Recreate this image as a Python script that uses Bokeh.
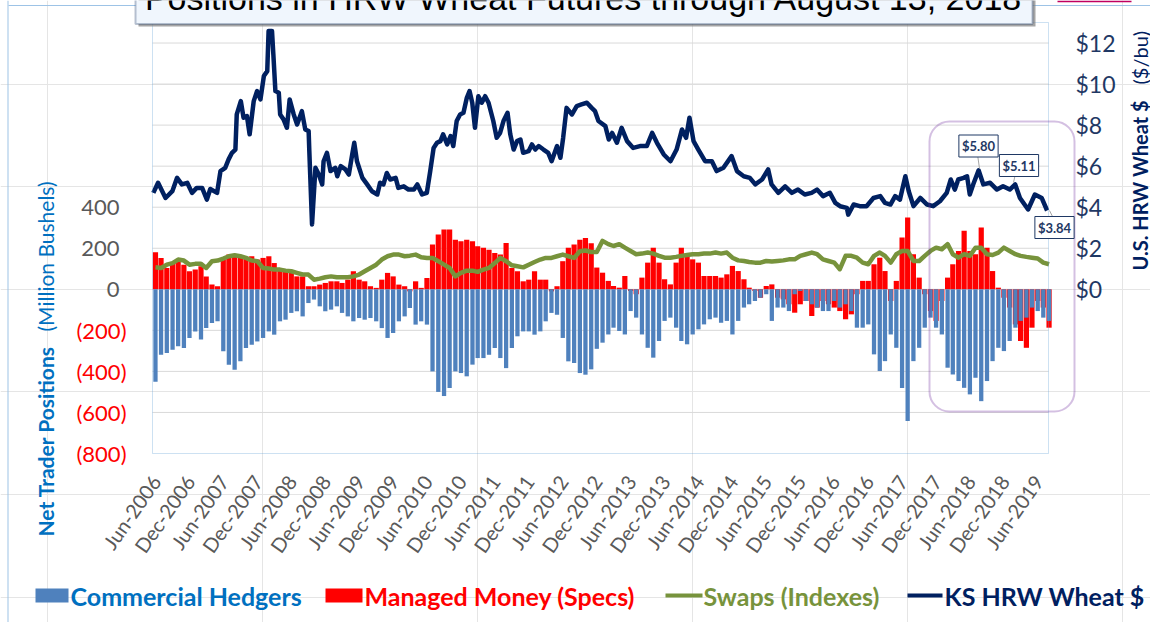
import math
from datetime import datetime, timedelta
from bokeh.plotting import figure
from bokeh.models import Range1d, Label, BoxAnnotation, Arrow
from bokeh.embed import file_html
from bokeh.resources import INLINE

# ---------------- data (million bushels, monthly from Jun-2006) ----------------
first_year, first_month = 2006, 6

commercial = [
    -450, -319, -310, -294, -278, -286, -237, -205, -245, -189,
    -164, -156, -302, -367, -392, -351, -286, -270, -254, -237,
    -205, -221, -156, -148, -115, -107, -132, -67, -50, -83,
    -107, -99, -83, -115, -132, -156, -140, -148, -140, -156,
    -189, -237, -213, -156, -132, -91, -172, -156, -172, -400,
    -500, -520, -481, -400, -408, -424, -367, -335, -335, -319,
    -286, -335, -384, -286, -229, -205, -205, -221, -205, -156,
    -115, -124, -237, -351, -359, -408, -416, -390, -290, -260,
    -220, -187, -203, -220, -106, -138, -220, -285, -333, -252,
    -154, -138, -187, -252, -268, -220, -195, -171, -146, -138,
    -163, -154, -220, -154, -89, -73, -57, -41, -24, -154,
    -89, -89, -106, -24, -8, -57, -73, -89, -106, -106,
    -57, -89, -73, -106, -187, -187, -171, -317, -398, -350,
    -220, -285, -481, -642, -350, -285, -187, -138, -187, -220,
    -382, -415, -447, -480, -512, -431, -545, -447, -350, -285,
    -301, -252, -187, -154, -138, -89, -106, -138, -154,
]

managed_money = [
    180, 153, 104, 128, 137, 120, 88, 96, 112, 63,
    23, 15, 145, 169, 169, 153, 153, 161, 145, 153,
    161, 128, 104, 96, 88, 63, 63, 15, 15, 23,
    31, 39, 39, 31, 47, 88, 47, 39, 15, 7,
    47, 80, 63, 23, 15, -10, 39, 7, 55, 218,
    267, 291, 291, 242, 234, 242, 234, 210, 202, 193,
    177, 169, 226, 104, 88, 39, 47, 88, 47, 47,
    -10, 15, 137, 202, 218, 242, 250, 225, 106, 81,
    41, 16, 8, 65, -8, -24, 57, 130, 203, 130,
    49, 24, 130, 203, 171, 146, 130, 65, 65, 65,
    57, 73, 114, 89, 49, 8, -8, -41, 16, 24,
    -41, -49, -73, -114, -73, -57, -130, -89, -57, -73,
    -89, -106, -146, -122, -24, 41, 41, 122, 154, 89,
    -57, 41, 252, 350, 171, 57, -24, -106, -154, -57,
    57, 122, 187, 285, 187, 171, 301, 203, 89, 8,
    -41, -89, -171, -252, -285, -187, -57, -89, -187,
]

swaps = [
    107, 104, 120, 128, 145, 140, 120, 124, 124, 104,
    137, 140, 150, 161, 166, 161, 153, 140, 137, 104,
    101, 96, 96, 91, 88, 80, 72, 72, 47, 52,
    59, 63, 59, 59, 59, 63, 72, 88, 104, 120,
    145, 161, 169, 169, 161, 164, 169, 156, 153, 153,
    137, 120, 104, 63, 80, 91, 91, 85, 96, 104,
    128, 153, 137, 117, 112, 107, 120, 133, 145, 153,
    153, 161, 169, 161, 153, 185, 189, 182, 182, 236,
    220, 211, 220, 203, 187, 171, 174, 179, 174, 163,
    154, 154, 158, 163, 167, 171, 171, 174, 174, 179,
    174, 179, 154, 141, 138, 133, 130, 130, 138, 135,
    138, 141, 146, 146, 163, 171, 179, 171, 146, 138,
    130, 98, 163, 163, 154, 130, 122, 163, 179, 163,
    130, 171, 187, 187, 138, 138, 163, 187, 203, 195,
    220, 171, 154, 171, 163, 203, 203, 171, 167, 179,
    203, 187, 171, 163, 158, 154, 150, 130, 122,
]

# KS HRW wheat price ($/bu), dates as decimal years
price_time = [
    2006.42, 2006.49, 2006.60, 2006.70, 2006.77, 2006.84, 2006.92, 2006.99, 2007.06, 2007.14,
    2007.21, 2007.26, 2007.36, 2007.41, 2007.48, 2007.53, 2007.58, 2007.63, 2007.65, 2007.71,
    2007.75, 2007.80, 2007.84, 2007.90, 2007.95, 2008.00, 2008.05, 2008.10, 2008.12, 2008.17,
    2008.19, 2008.22, 2008.27, 2008.29, 2008.34, 2008.39, 2008.43, 2008.49, 2008.54, 2008.61,
    2008.66, 2008.71, 2008.72, 2008.76, 2008.81, 2008.86, 2008.91, 2008.93, 2008.98, 2009.03,
    2009.10, 2009.13, 2009.18, 2009.25, 2009.30, 2009.35, 2009.38, 2009.42, 2009.50, 2009.57,
    2009.64, 2009.72, 2009.76, 2009.81, 2009.86, 2009.91, 2009.99, 2010.03, 2010.11, 2010.18,
    2010.26, 2010.31, 2010.38, 2010.45, 2010.50, 2010.55, 2010.60, 2010.65, 2010.69, 2010.75,
    2010.80, 2010.84, 2010.89, 2010.94, 2010.99, 2011.04, 2011.08, 2011.12, 2011.16, 2011.21,
    2011.26, 2011.31, 2011.36, 2011.43, 2011.48, 2011.53, 2011.58, 2011.64, 2011.68, 2011.73,
    2011.78, 2011.83, 2011.87, 2011.95, 2012.00, 2012.05, 2012.10, 2012.17, 2012.24, 2012.29,
    2012.37, 2012.42, 2012.46, 2012.51, 2012.59, 2012.66, 2012.73, 2012.81, 2012.88, 2012.93,
    2012.98, 2013.08, 2013.13, 2013.18, 2013.25, 2013.32, 2013.40, 2013.49, 2013.59, 2013.69,
    2013.77, 2013.84, 2013.94, 2014.04, 2014.13, 2014.21, 2014.27, 2014.32, 2014.38, 2014.45,
    2014.55, 2014.65, 2014.72, 2014.82, 2014.94, 2015.02, 2015.12, 2015.21, 2015.29, 2015.39,
    2015.48, 2015.53, 2015.63, 2015.73, 2015.83, 2015.92, 2016.02, 2016.12, 2016.20, 2016.29,
    2016.39, 2016.47, 2016.54, 2016.64, 2016.66, 2016.74, 2016.83, 2016.93, 2017.03, 2017.13,
    2017.20, 2017.28, 2017.35, 2017.42, 2017.50, 2017.55, 2017.62, 2017.72, 2017.82, 2017.91,
    2018.01, 2018.11, 2018.17, 2018.23, 2018.28, 2018.36, 2018.41, 2018.45, 2018.50, 2018.58,
    2018.65, 2018.75, 2018.85, 2018.94, 2019.04, 2019.12, 2019.19, 2019.31, 2019.41, 2019.51,
    2019.59,
]
price = [
    4.70, 5.19, 4.45, 4.78, 5.43, 5.11, 5.19, 4.70, 4.94, 4.94,
    4.37, 4.89, 4.70, 5.76, 5.92, 6.33, 6.65, 6.81, 8.52, 9.17,
    8.36, 8.44, 7.55, 9.17, 9.66, 9.25, 10.39, 10.63, 12.59, 12.59,
    11.45, 9.66, 9.58, 8.52, 8.28, 7.87, 9.25, 8.52, 8.03, 8.68,
    7.79, 7.71, 6.73, 3.16, 5.92, 5.59, 5.11, 6.24, 6.65, 5.76,
    5.92, 5.51, 6.00, 5.84, 5.59, 6.57, 7.14, 6.24, 5.43, 5.11,
    4.78, 4.62, 5.19, 5.11, 5.67, 5.35, 5.43, 4.94, 5.02, 4.86,
    4.86, 5.11, 4.62, 4.70, 5.76, 6.89, 7.14, 7.22, 7.55, 7.06,
    7.46, 6.98, 8.20, 8.52, 8.60, 9.33, 9.66, 9.09, 7.87, 9.41,
    9.09, 9.41, 9.09, 8.20, 7.38, 7.62, 8.20, 8.60, 7.55, 6.81,
    7.22, 7.30, 6.65, 6.73, 7.06, 6.81, 6.98, 6.81, 6.65, 6.24,
    6.98, 6.41, 7.38, 8.84, 8.52, 8.93, 9.01, 9.09, 8.84, 8.68,
    8.20, 7.95, 7.30, 7.62, 7.14, 7.87, 7.22, 6.89, 6.98, 6.98,
    7.62, 7.14, 6.57, 6.24, 6.81, 7.79, 7.38, 8.36, 7.22, 6.81,
    6.24, 6.24, 5.76, 5.92, 6.49, 5.76, 5.51, 5.43, 5.11, 5.35,
    5.84, 5.11, 4.70, 5.02, 4.70, 4.86, 4.62, 4.70, 4.86, 4.54,
    4.70, 4.21, 4.05, 3.97, 3.64, 4.13, 4.05, 4.05, 4.45, 4.54,
    4.21, 4.13, 4.54, 4.37, 5.51, 4.78, 4.05, 4.45, 4.13, 4.05,
    4.29, 4.70, 5.35, 4.86, 5.35, 5.43, 5.51, 4.62, 5.11, 5.80,
    5.11, 5.19, 4.86, 5.02, 4.86, 5.11, 4.45, 3.89, 4.62, 4.45,
    3.84,
]

price_callouts = [5.80, 5.11, 3.84]

left_ticks = [-800, -600, -400, -200, 0, 200, 400]
left_tick_labels = ["(800)", "(600)", "(400)", "(200)", "0", "200", "400"]
grid_ticks = [-600, -400, -200, 0, 200, 400, 600, 800, 1000, 1200]
right_ticks = [0, 2, 4, 6, 8, 10, 12]
date_tick_years = list(range(2006, 2020))

title_text = "Positions in HRW Wheat Futures through August 13, 2018"

# ---------------- helpers ----------------
EPOCH = datetime(1970, 1, 1)
def ms(d):
    return (d - EPOCH).total_seconds() * 1000.0

def month_date(k):
    m0 = first_month - 1 + k
    return datetime(first_year + m0 // 12, m0 % 12 + 1, 15)

def from_decimal_year(t):
    y = int(t)
    return datetime(y, 1, 1) + timedelta(days=(t - y) * 365.25)

month_dates = [month_date(k) for k in range(len(commercial))]
price_dates = [from_decimal_year(t) for t in price_time]

date_ticks = []
for y in date_tick_years:
    for m in (6, 12):
        d = datetime(y, m, 1)
        if d <= datetime(2019, 6, 1):
            date_ticks.append(d)

DAY = 86400000.0

# ---------------- layout (canvas pixels, top-left origin) ----------------
W, H = 1150, 622
PL, PR, PT, PB = 152, 1048, 22, 453          # plot-area box
D0, D1 = ms(datetime(2006, 5, 30)), ms(datetime(2019, 8, 12))
Y0, Y1 = -800, 1300
P0, P1 = -8, 13
xs = (D1 - D0) / (PR - PL)
ys = (Y1 - Y0) / (PB - PT)
ps = (P1 - P0) / (PB - PT)

def sx(px):
    return px
def sy(py):
    return H - py

NAVY = "#002060"
DARKBLUE = "#1F3864"

p = figure(width=W, height=H, output_backend="svg", toolbar_location=None,
           x_axis_location=None, y_axis_location=None,
           x_range=Range1d(D0 - PL * xs, D1 + (W - PR) * xs),
           y_range=Range1d(Y0 - (H - PB) * ys, Y1 + PT * ys),
           min_border=0)
p.extra_y_ranges = {"price": Range1d(P0 - (H - PB) * ps, P1 + PT * ps)}
p.outline_line_color = None
p.background_fill_color = "white"
p.border_fill_color = "white"

def screen_box(left, right, top, bottom, **kw):
    return BoxAnnotation(left=sx(left), right=sx(right), top=sy(top), bottom=sy(bottom),
                         left_units="screen", right_units="screen",
                         top_units="screen", bottom_units="screen", **kw)

# outer chart border pieces
p.add_layout(screen_box(7, 8, 0, H, fill_color="#9DC3E6", fill_alpha=1, line_color=None))
p.add_layout(screen_box(8, W, 4.5, 5.5, fill_color="#9DC3E6", fill_alpha=1, line_color=None))
p.add_layout(screen_box(1057, 1131, 0, 1.8, fill_color="#C00060", fill_alpha=1, line_color=None))

# horizontal gridlines within the plot area
p.segment(x0=[D0] * len(grid_ticks), x1=[D1] * len(grid_ticks), y0=grid_ticks, y1=grid_ticks,
          line_color="#D9D9D9", line_width=1)

# ---------------- glyphs ----------------
p.vbar(x=month_dates, top=managed_money, bottom=0, width=28 * DAY,
       fill_color="#FF0000", line_color=None)
p.vbar(x=month_dates, top=commercial, bottom=0, width=23 * DAY,
       fill_color="#4F81BD", line_color=None)
p.line(month_dates, swaps, line_color="#77933C", line_width=4.5, line_join="round")
p.line(price_dates, price, y_range_name="price", line_color=NAVY, line_width=4.5,
       line_join="round")

# plot-area border
p.add_layout(BoxAnnotation(left=D0, right=D1, bottom=Y0, top=Y1,
                           fill_alpha=0, line_color="#5B9BD5", line_width=1))

# ---------------- axes: tick labels ----------------
for v, txt in zip(left_ticks, left_tick_labels):
    neg = v < 0
    p.add_layout(Label(x=sx(126 if neg else 119), y=v, x_units="screen", y_units="data",
                       text=txt, text_align="right", text_baseline="middle",
                       text_font="Lato", text_font_size="22px",
                       text_color="#FF0000" if neg else "#595959"))

for v in right_ticks:
    p.add_layout(Label(x=sx(1075), y=v, x_units="screen", y_units="data",
                       y_range_name="price", text="$%d" % v, text_align="left",
                       text_baseline="middle", text_font="Lato", text_font_size="23px",
                       text_color=DARKBLUE))

for d in date_ticks:
    p.add_layout(Label(x=ms(d), y=sy(477), x_units="data", y_units="screen",
                       x_offset=3, text=d.strftime("%b-%Y"), angle=math.radians(55),
                       text_align="right", text_baseline="middle",
                       text_font="Lato", text_font_size="20px", text_color="#595959"))

# axis titles
p.add_layout(Label(x=sx(45), y=sy(536), x_units="screen", y_units="screen",
                   text="Net Trader Positions", angle=math.pi / 2, text_align="left",
                   text_baseline="middle", text_font="Lato", text_font_style="bold",
                   text_font_size="21px", text_color="#0070C0"))
p.add_layout(Label(x=sx(45), y=sy(331), x_units="screen", y_units="screen",
                   text="(Million Bushels)", angle=math.pi / 2, text_align="left",
                   text_baseline="middle", text_font="Lato",
                   text_font_size="21px", text_color="#0070C0"))
p.add_layout(Label(x=sx(1139), y=sy(270), x_units="screen", y_units="screen",
                   text="U.S. HRW Wheat $", angle=math.pi / 2, text_align="left",
                   text_baseline="middle", text_font="Lato", text_font_style="bold",
                   text_font_size="20px", text_color=NAVY))
p.add_layout(Label(x=sx(1139), y=sy(84), x_units="screen", y_units="screen",
                   text="($/bu)", angle=math.pi / 2, text_align="left",
                   text_baseline="middle", text_font="Lato",
                   text_font_size="20px", text_color=NAVY))

# ---------------- highlight box and price callouts ----------------
p.add_layout(screen_box(929, 1074, 121, 411, fill_alpha=0, line_color="#7030A0",
                        line_width=2, border_radius=20))

callout_pos = [(978, 145.5, 977, 154, 979, 168),
               (1018.5, 165, 1015, 173, 1013, 182),
               (1054, 227, 1053, 218, 1049, 210)]
for v, (cx, cy, x0, y0, x1, y1) in zip(price_callouts, callout_pos):
    p.add_layout(Arrow(x_start=sx(x0), y_start=sy(y0), x_end=sx(x1), y_end=sy(y1),
                       start_units="screen", end_units="screen", end=None,
                       line_color="#A6A6A6", line_width=1))
    p.add_layout(Label(x=sx(cx), y=sy(cy), x_units="screen", y_units="screen",
                       text="${:.2f}".format(v), text_align="center", text_baseline="middle",
                       text_font="Lato", text_font_style="bold", text_font_size="13px",
                       text_color=DARKBLUE, background_fill_color="white",
                       border_line_color=DARKBLUE, border_line_width=1, padding=3))

# ---------------- title box (cut by the top edge, as in the original) ----------------
p.add_layout(screen_box(138, 1035, -30, 26, fill_color="#7F7F7F", fill_alpha=0.7,
                        line_color=None))
p.add_layout(screen_box(135, 1032, -30, 23.5, fill_color="#F0F6FD", fill_alpha=1,
                        line_color=DARKBLUE, line_width=2))
p.add_layout(Label(x=sx(583.5), y=sy(-3), x_units="screen", y_units="screen",
                   text=title_text, text_align="center", text_baseline="middle",
                   text_font="Liberation Sans", text_font_size="34px",
                   text_color="black"))

# ---------------- legend ----------------
legend_items = [
    ("Commercial Hedgers", "#4F81BD", "#0070C0", "patch", 35, 68, 70),
    ("Managed Money (Specs)", "#FF0000", "#FF0000", "patch", 325, 362, 364),
    ("Swaps (Indexes)", "#77933C", "#77933C", "line", 665, 702, 703),
    ("KS HRW Wheat $", NAVY, NAVY, "line", 907, 942, 944),
]
for txt, col, tcol, kind, x0, x1, tx in legend_items:
    if kind == "patch":
        top, bot = 588, 602
    else:
        top, bot = 593, 597
    p.add_layout(screen_box(x0, x1, top, bot, fill_color=col, fill_alpha=1, line_color=None))
    p.add_layout(Label(x=sx(tx), y=sy(595), x_units="screen", y_units="screen",
                       text=txt, text_align="left", text_baseline="middle",
                       text_font="Lato", text_font_style="bold", text_font_size="25px",
                       text_color=tcol))

open("out.html", "w").write(file_html(p, INLINE))
